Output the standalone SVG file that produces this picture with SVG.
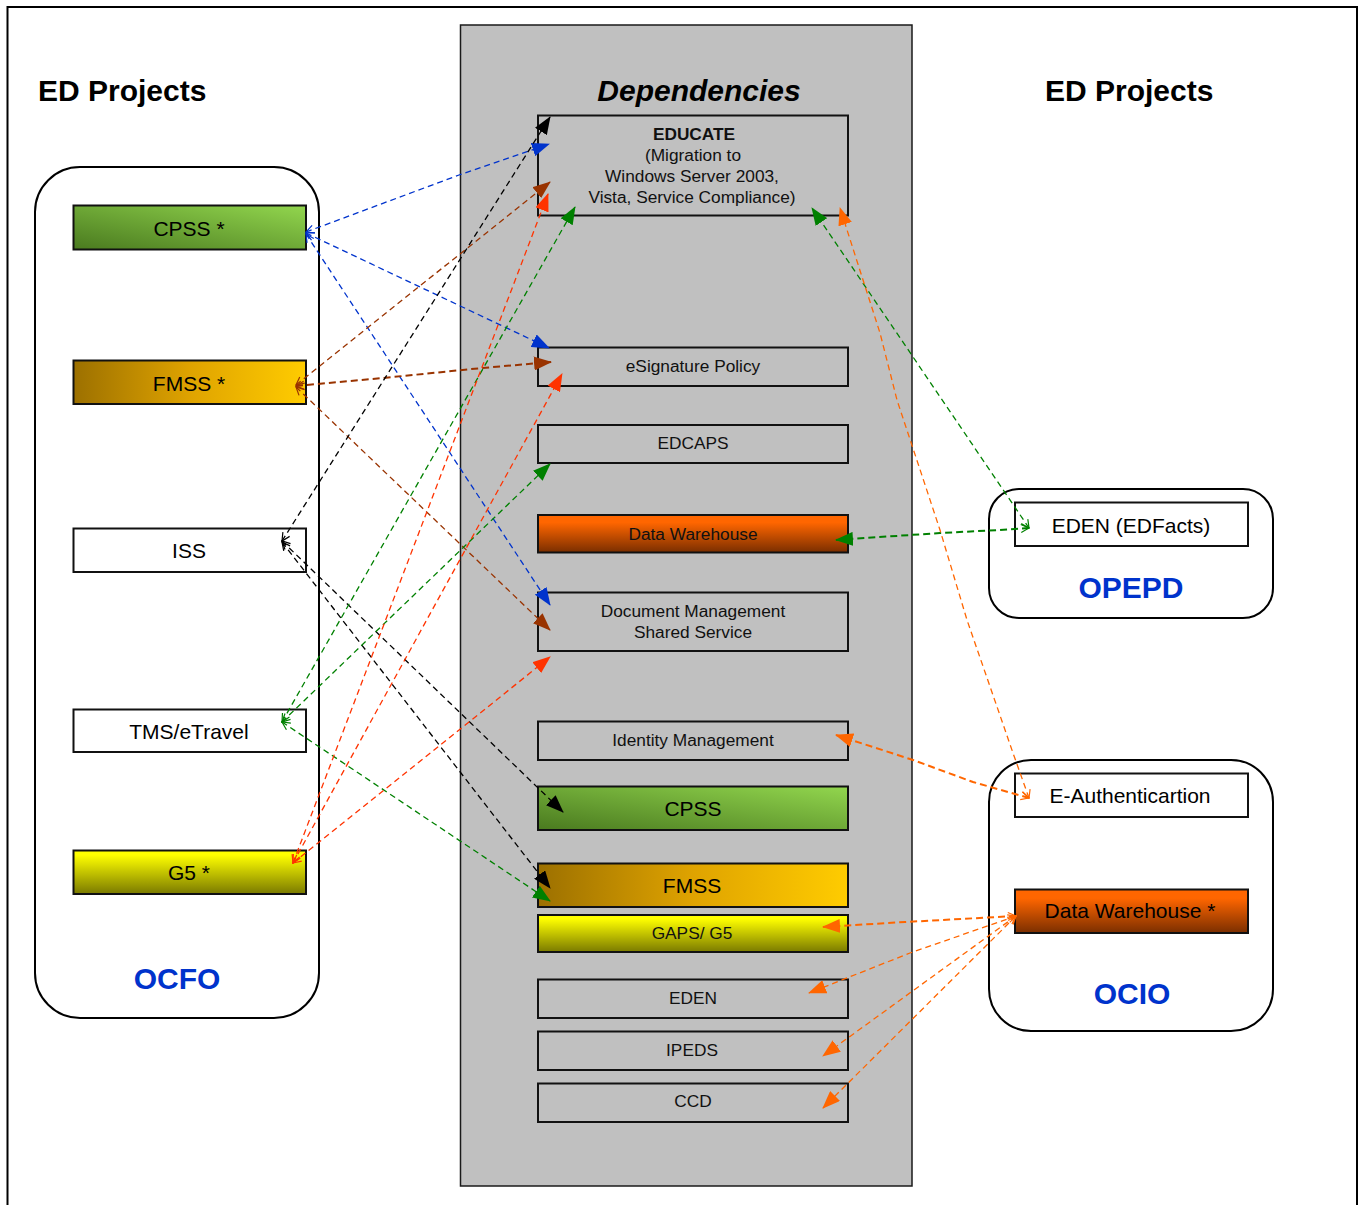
<svg xmlns="http://www.w3.org/2000/svg" width="1363" height="1205" viewBox="0 0 1363 1205">
  <defs>
    <style>
      .frame { fill: none; stroke: #000; stroke-width: 2; }
      .panel { fill: #c0c0c0; stroke: #1a1a1a; stroke-width: 1.5; }
      .group { fill: #fff; stroke: #000; stroke-width: 2; }
      .box { stroke: #111; stroke-width: 2; }
      .plain { fill: #fff; }
      .grey { fill: #c0c0c0; }
      .title { font-family: "Liberation Sans", Arial, sans-serif; font-weight: bold; font-size: 30px; fill: #000; }
      .org { font-family: "Liberation Sans", Arial, sans-serif; font-weight: bold; font-size: 30px; fill: #0033cc; text-anchor: middle; }
      .lbl { font-family: "Liberation Sans", Arial, sans-serif; font-size: 21px; fill: #000; text-anchor: middle; dominant-baseline: central; }
      .dep { font-family: "Liberation Sans", Arial, sans-serif; font-size: 17.3px; fill: #111; text-anchor: middle; dominant-baseline: central; }
      .link { fill: none; stroke-width: 1.3; stroke-dasharray: 6 4; }
      .thick { stroke-width: 2; stroke-dasharray: 7 4; }
      .blue { stroke: #0033cc; marker-start: url(#o-blue); marker-end: url(#a-blue); }
      .brown { stroke: #993300; marker-start: url(#o-brown); marker-end: url(#a-brown); }
      .black { stroke: #000; marker-start: url(#o-black); marker-end: url(#a-black); }
      .green { stroke: #008000; marker-start: url(#o-green); marker-end: url(#a-green); }
      .red { stroke: #ff3300; marker-start: url(#o-red); marker-end: url(#a-red); }
      .orange { stroke: #ff6600; marker-start: url(#o-orange); marker-end: url(#a-orange); }
    </style>
    <linearGradient id="gGreen" x1="0" y1="1" x2="1" y2="0">
      <stop offset="0" stop-color="#4a7a1f"/>
      <stop offset="1" stop-color="#92d64e"/>
    </linearGradient>
    <linearGradient id="gGold" x1="0" y1="0" x2="1" y2="0">
      <stop offset="0" stop-color="#9c7000"/>
      <stop offset="0.5" stop-color="#dfa300"/>
      <stop offset="1" stop-color="#ffcc00"/>
    </linearGradient>
    <linearGradient id="gYellow" x1="0" y1="0" x2="0" y2="1">
      <stop offset="0.1" stop-color="#ffff00"/>
      <stop offset="1" stop-color="#7a7a00"/>
    </linearGradient>
    <linearGradient id="gOrange" x1="0" y1="0" x2="0" y2="1">
      <stop offset="0.2" stop-color="#ff6600"/>
      <stop offset="1" stop-color="#7a2e00"/>
    </linearGradient>

    <!-- filled heads at the dependency end -->
    <marker id="a-blue" viewBox="0 0 18 14" refX="17" refY="7" markerWidth="18" markerHeight="14" markerUnits="userSpaceOnUse" orient="auto"><path d="M0,0 L18,7 L0,14 z" fill="#0033cc"/></marker>
    <marker id="a-brown" viewBox="0 0 18 14" refX="17" refY="7" markerWidth="18" markerHeight="14" markerUnits="userSpaceOnUse" orient="auto"><path d="M0,0 L18,7 L0,14 z" fill="#993300"/></marker>
    <marker id="a-black" viewBox="0 0 18 14" refX="17" refY="7" markerWidth="18" markerHeight="14" markerUnits="userSpaceOnUse" orient="auto"><path d="M0,0 L18,7 L0,14 z" fill="#000"/></marker>
    <marker id="a-green" viewBox="0 0 18 14" refX="17" refY="7" markerWidth="18" markerHeight="14" markerUnits="userSpaceOnUse" orient="auto"><path d="M0,0 L18,7 L0,14 z" fill="#008000"/></marker>
    <marker id="a-red" viewBox="0 0 18 14" refX="17" refY="7" markerWidth="18" markerHeight="14" markerUnits="userSpaceOnUse" orient="auto"><path d="M0,0 L18,7 L0,14 z" fill="#ff3300"/></marker>
    <marker id="a-orange" viewBox="0 0 18 14" refX="17" refY="7" markerWidth="18" markerHeight="14" markerUnits="userSpaceOnUse" orient="auto"><path d="M0,0 L18,7 L0,14 z" fill="#ff6600"/></marker>

    <!-- open chevrons at the project end -->
    <marker id="o-blue" viewBox="0 0 10 10" refX="9" refY="5" markerWidth="10" markerHeight="10" markerUnits="userSpaceOnUse" orient="auto-start-reverse"><path d="M1,1 L9,5 L1,9" fill="none" stroke="#0033cc" stroke-width="1.2"/></marker>
    <marker id="o-brown" viewBox="0 0 10 10" refX="9" refY="5" markerWidth="10" markerHeight="10" markerUnits="userSpaceOnUse" orient="auto-start-reverse"><path d="M1,1 L9,5 L1,9" fill="none" stroke="#993300" stroke-width="1.2"/></marker>
    <marker id="o-black" viewBox="0 0 10 10" refX="9" refY="5" markerWidth="10" markerHeight="10" markerUnits="userSpaceOnUse" orient="auto-start-reverse"><path d="M1,1 L9,5 L1,9" fill="none" stroke="#000" stroke-width="1.2"/></marker>
    <marker id="o-green" viewBox="0 0 10 10" refX="9" refY="5" markerWidth="10" markerHeight="10" markerUnits="userSpaceOnUse" orient="auto-start-reverse"><path d="M1,1 L9,5 L1,9" fill="none" stroke="#008000" stroke-width="1.2"/></marker>
    <marker id="o-red" viewBox="0 0 10 10" refX="9" refY="5" markerWidth="10" markerHeight="10" markerUnits="userSpaceOnUse" orient="auto-start-reverse"><path d="M1,1 L9,5 L1,9" fill="none" stroke="#ff3300" stroke-width="1.2"/></marker>
    <marker id="o-orange" viewBox="0 0 10 10" refX="9" refY="5" markerWidth="10" markerHeight="10" markerUnits="userSpaceOnUse" orient="auto-start-reverse"><path d="M1,1 L9,5 L1,9" fill="none" stroke="#ff6600" stroke-width="1.2"/></marker>
  </defs>

  <rect width="1363" height="1205" fill="#fff"/>
  <path class="frame" d="M7.5,1205 V7 H1357 V1205"/>

  <!-- central dependencies column -->
  <rect class="panel" x="460.5" y="25" width="451.5" height="1161"/>

  <!-- headings -->
  <text class="title" x="38" y="101">ED Projects</text>
  <text class="title" x="1045" y="101">ED Projects</text>
  <text class="title" x="699" y="101" text-anchor="middle" font-style="italic">Dependencies</text>

  <!-- organisation groups -->
  <g id="group-ocfo">
    <rect class="group" x="35" y="167" width="284" height="851" rx="45" ry="45"/>
    <text class="org" x="177" y="989">OCFO</text>
  </g>
  <g id="group-opepd">
    <rect class="group" x="989" y="489" width="284" height="129" rx="30" ry="30"/>
    <text class="org" x="1131" y="598">OPEPD</text>
  </g>
  <g id="group-ocio">
    <rect class="group" x="989" y="760" width="284" height="271" rx="42" ry="42"/>
    <text class="org" x="1132" y="1004">OCIO</text>
  </g>

  <!-- OCFO projects -->
  <g id="proj-cpss">
    <rect class="box" x="73.5" y="205.5" width="232.5" height="44" fill="url(#gGreen)"/>
    <text class="lbl" x="189" y="228">CPSS *</text>
  </g>
  <g id="proj-fmss">
    <rect class="box" x="73.5" y="360.5" width="232.5" height="43.5" fill="url(#gGold)"/>
    <text class="lbl" x="189" y="383">FMSS *</text>
  </g>
  <g id="proj-iss">
    <rect class="box plain" x="73.5" y="528.5" width="232.5" height="43.5"/>
    <text class="lbl" x="189" y="550">ISS</text>
  </g>
  <g id="proj-tms">
    <rect class="box plain" x="73.5" y="709.5" width="232.5" height="42.5"/>
    <text class="lbl" x="189" y="731">TMS/eTravel</text>
  </g>
  <g id="proj-g5">
    <rect class="box" x="73.5" y="850.5" width="232.5" height="43.5" fill="url(#gYellow)"/>
    <text class="lbl" x="189" y="872">G5 *</text>
  </g>

  <!-- OPEPD / OCIO projects -->
  <g id="proj-eden-edfacts">
    <rect class="box plain" x="1015" y="502.5" width="233" height="43.5"/>
    <text class="lbl" x="1131" y="525">EDEN (EDFacts)</text>
  </g>
  <g id="proj-eauth">
    <rect class="box plain" x="1015" y="773.5" width="233" height="43.5"/>
    <text class="lbl" x="1130" y="795">E-Authenticartion</text>
  </g>
  <g id="proj-dw">
    <rect class="box" x="1015" y="889.5" width="233" height="43.5" fill="url(#gOrange)"/>
    <text class="lbl" x="1130" y="910">Data Warehouse *</text>
  </g>

  <!-- dependencies -->
  <g id="dep-educate">
    <rect class="box grey" x="538" y="115.5" width="310" height="100"/>
    <text class="dep" x="694" y="134" font-weight="bold">EDUCATE</text>
    <text class="dep" x="693" y="155">(Migration to</text>
    <text class="dep" x="692" y="176">Windows Server 2003,</text>
    <text class="dep" x="692" y="197">Vista, Service Compliance)</text>
  </g>
  <g id="dep-esignature">
    <rect class="box grey" x="538" y="347.5" width="310" height="38.5"/>
    <text class="dep" x="693" y="366">eSignature Policy</text>
  </g>
  <g id="dep-edcaps">
    <rect class="box grey" x="538" y="425" width="310" height="38"/>
    <text class="dep" x="693" y="443">EDCAPS</text>
  </g>
  <g id="dep-dw">
    <rect class="box" x="538" y="515" width="310" height="37.5" fill="url(#gOrange)"/>
    <text class="dep" x="693" y="534">Data Warehouse</text>
  </g>
  <g id="dep-docmgmt">
    <rect class="box grey" x="538" y="592.5" width="310" height="58.5"/>
    <text class="dep" x="693" y="611">Document Management</text>
    <text class="dep" x="693" y="632">Shared Service</text>
  </g>
  <g id="dep-identity">
    <rect class="box grey" x="538" y="721.5" width="310" height="38.5"/>
    <text class="dep" x="693" y="740">Identity Management</text>
  </g>
  <g id="dep-cpss">
    <rect class="box" x="538" y="786.5" width="310" height="43.5" fill="url(#gGreen)"/>
    <text class="lbl" x="693" y="808">CPSS</text>
  </g>
  <g id="dep-fmss">
    <rect class="box" x="538" y="863.5" width="310" height="43.5" fill="url(#gGold)"/>
    <text class="lbl" x="692" y="885">FMSS</text>
  </g>
  <g id="dep-gaps">
    <rect class="box" x="538" y="915" width="310" height="37" fill="url(#gYellow)"/>
    <text class="dep" x="692" y="933">GAPS/ G5</text>
  </g>
  <g id="dep-eden">
    <rect class="box grey" x="538" y="979.5" width="310" height="38.5"/>
    <text class="dep" x="693" y="998">EDEN</text>
  </g>
  <g id="dep-ipeds">
    <rect class="box grey" x="538" y="1031.5" width="310" height="38.5"/>
    <text class="dep" x="692" y="1050">IPEDS</text>
  </g>
  <g id="dep-ccd">
    <rect class="box grey" x="538" y="1083.5" width="310" height="38.5"/>
    <text class="dep" x="693" y="1101">CCD</text>
  </g>

  <!-- dependency links -->
  <g id="connectors">
    <!-- CPSS * -->
    <path class="link blue" d="M306,232 L459,175 L549,144"/>
    <path class="link blue" d="M306,233 L549,348"/>
    <path class="link blue" d="M306,234 L550,605"/>
    <!-- FMSS * -->
    <path class="link brown" d="M296,385 L550,182"/>
    <path class="link brown thick" d="M296,386 L383,378 L482,368 L551,362"/>
    <path class="link brown" d="M296,387 L550,630"/>
    <!-- ISS -->
    <path class="link black" d="M282,541 L550,117"/>
    <path class="link black" d="M282,541 L563,812"/>
    <path class="link black" d="M282,542 L550,888"/>
    <!-- TMS/eTravel -->
    <path class="link green" d="M282,722 L575,207"/>
    <path class="link green" d="M282,722 L550,464"/>
    <path class="link green" d="M282,722 L550,901"/>
    <!-- G5 * -->
    <path class="link red" d="M293,863 L548,194"/>
    <path class="link red" d="M293,863 L562,374"/>
    <path class="link red" d="M293,863 L550,657"/>
    <!-- EDEN (EDFacts) -->
    <path class="link green" d="M1029,528 L812,208"/>
    <path class="link green thick" d="M1029,528 L1000,530 L940,533 L836,540"/>
    <!-- E-Authenticartion -->
    <path class="link orange" d="M1029,798 L1013,753 L967,620 L940,530 L897,400 L880,333 L840,208"/>
    <path class="link orange thick" d="M1029,798 L973,782 L913,760 L836,735"/>
    <!-- Data Warehouse * -->
    <path class="link orange thick" d="M1016,916 L905,922 L823,927"/>
    <path class="link orange" d="M1016,916 L910,953 L809,993"/>
    <path class="link orange" d="M1016,916 L823,1056"/>
    <path class="link orange" d="M1016,916 L823,1108"/>
  </g>
</svg>
